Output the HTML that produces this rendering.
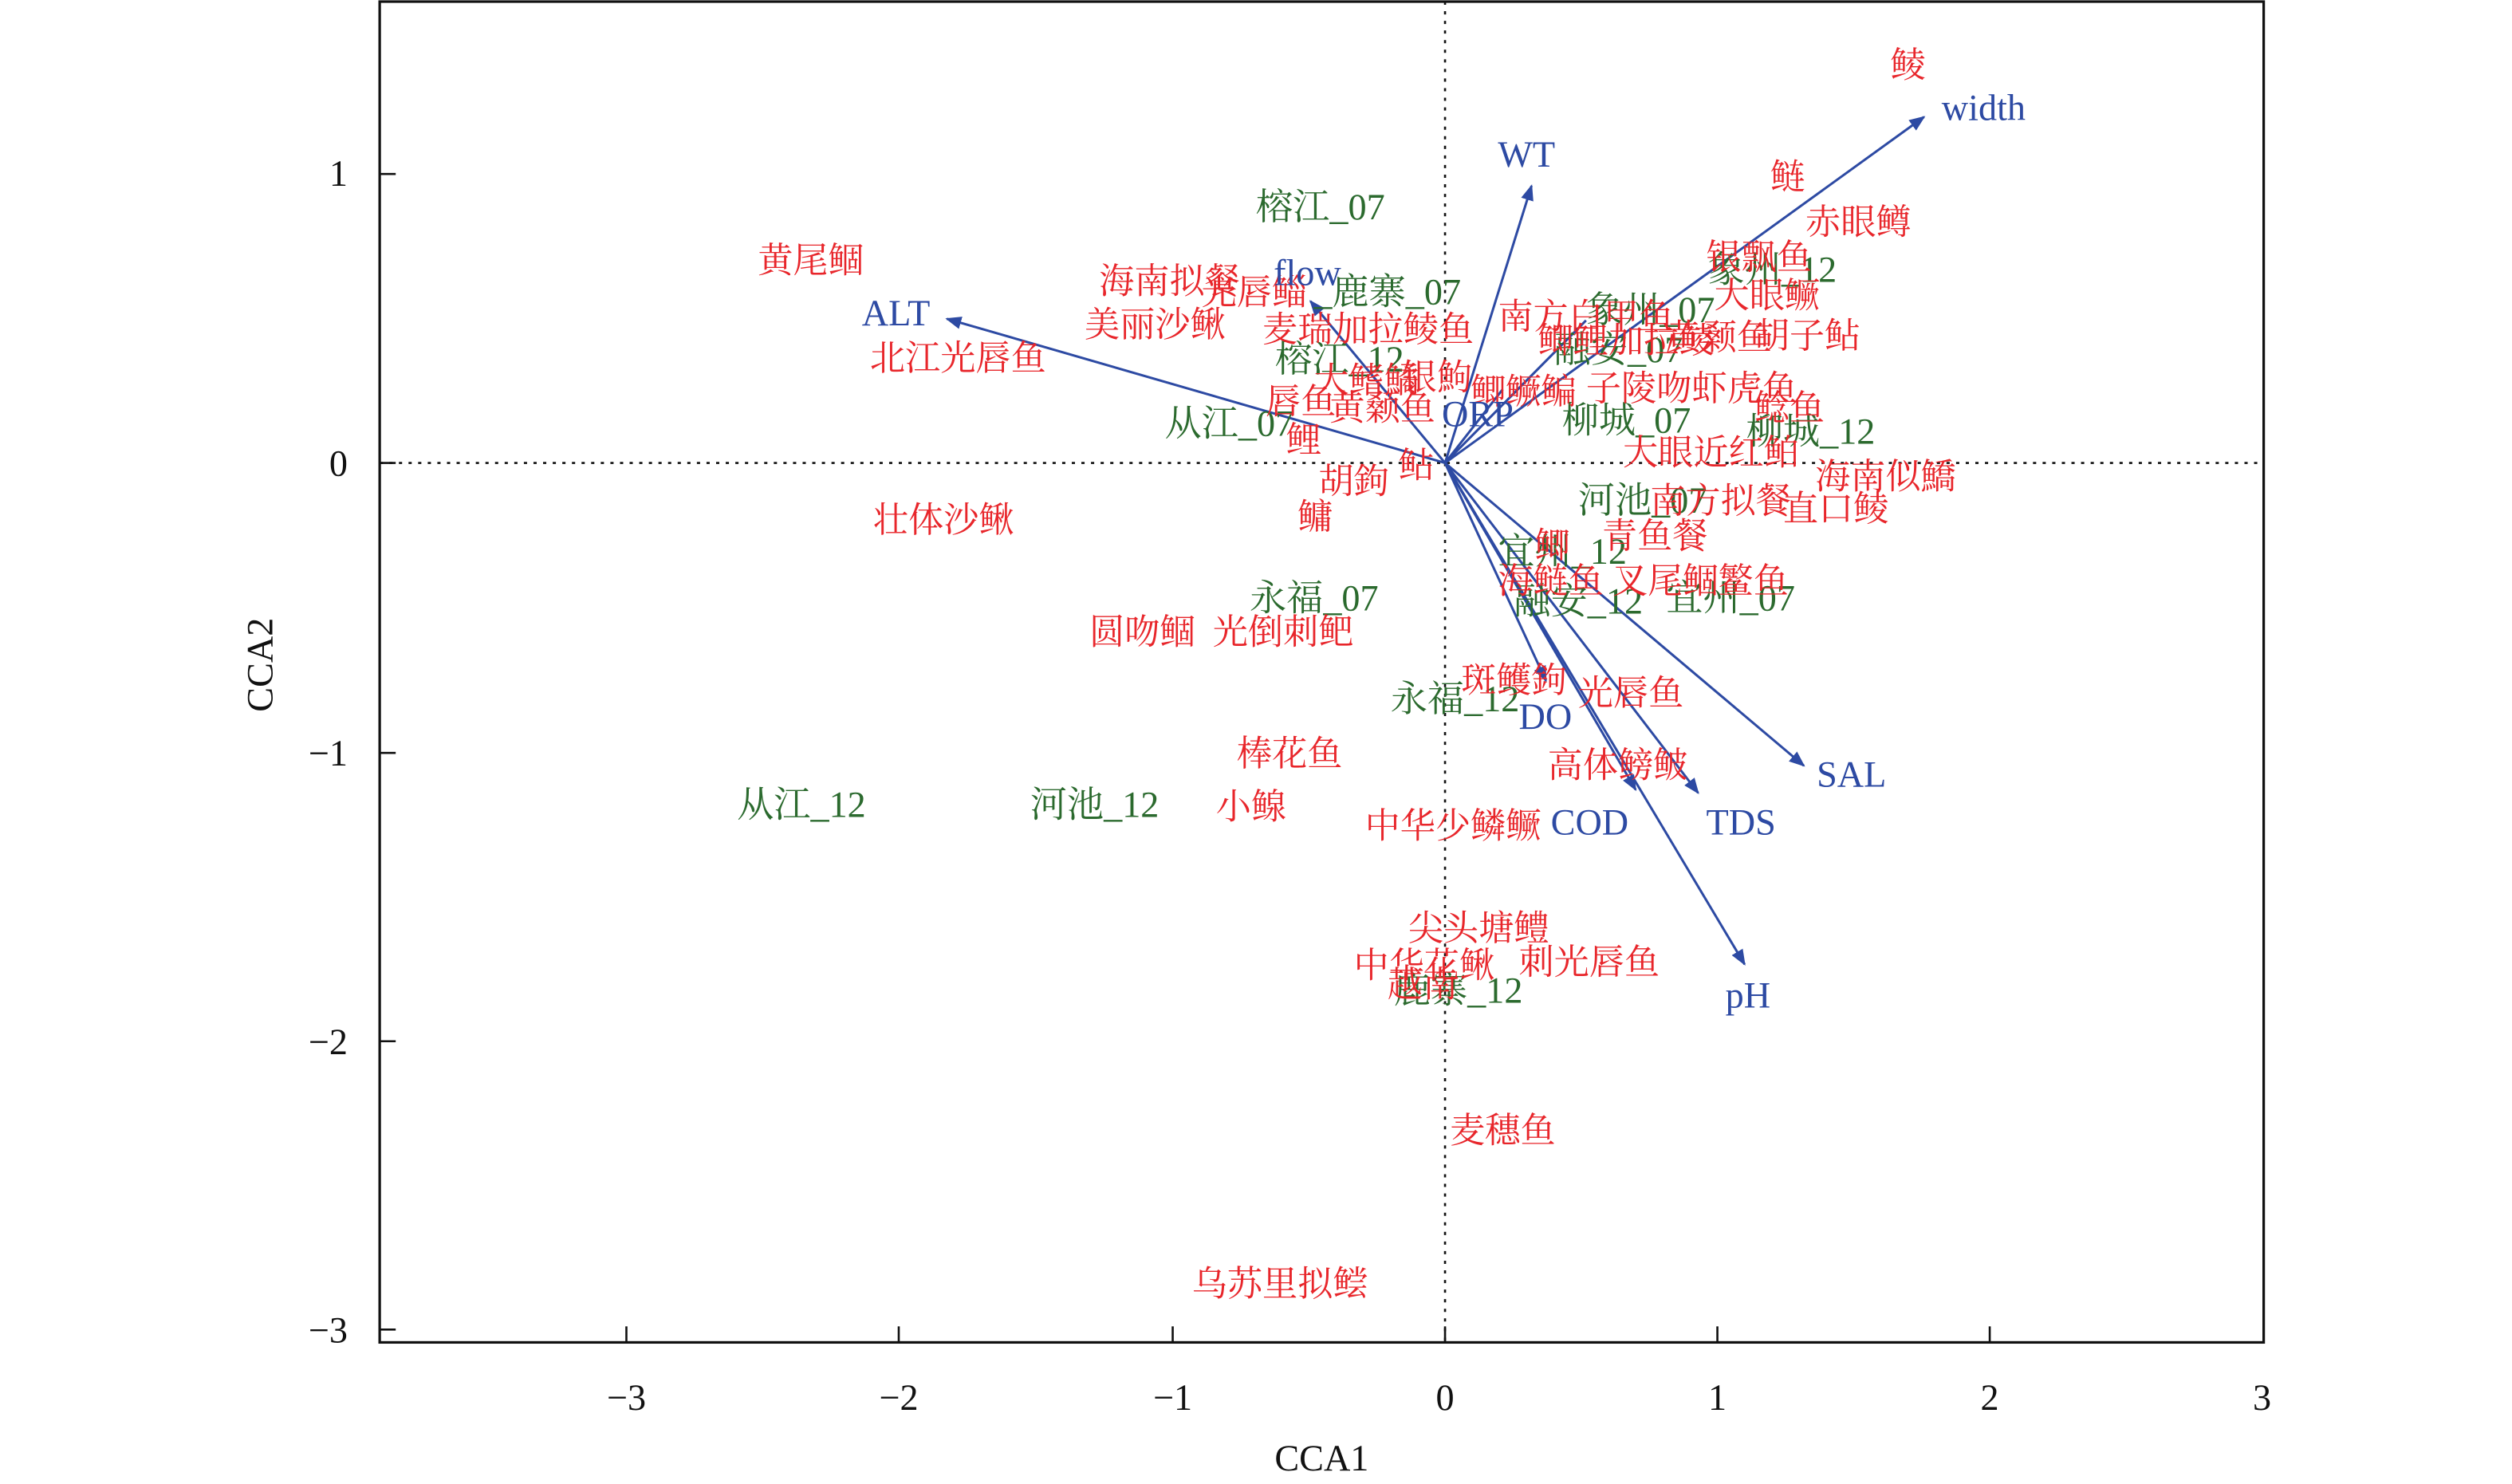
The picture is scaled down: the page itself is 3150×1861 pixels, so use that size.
<!DOCTYPE html>
<html><head><meta charset="utf-8"><style>
html,body{margin:0;padding:0;background:#fff}
svg{display:block}
text{font-family:"Liberation Serif","Noto Serif CJK SC",serif}
.r{fill:#e8262b;font-size:22px}
.g{fill:#2b6a2e;font-size:23px}
.b{fill:#2d4aa3;font-size:23px}
.t{fill:#111;font-size:23px}
</style></head><body>
<svg width="3150" height="1861" viewBox="0 0 1568 926.4" preserveAspectRatio="none" xmlns="http://www.w3.org/2000/svg">
<defs><marker id="a" markerWidth="10" markerHeight="8" refX="9" refY="4" orient="auto" markerUnits="userSpaceOnUse"><path d="M0,0 L10,4 L0,8 z" fill="#2d4aa3"/></marker></defs>
<rect x="237" y="1" width="1176" height="837" fill="none" stroke="#111" stroke-width="1.6"/>
<line x1="902" y1="1" x2="902" y2="838" stroke="#111" stroke-width="1.3" stroke-dasharray="2,4"/>
<line x1="237" y1="289" x2="1413" y2="289" stroke="#111" stroke-width="1.3" stroke-dasharray="2,4"/>
<g stroke="#111" stroke-width="1.3">
<line x1="391" y1="838" x2="391" y2="828"/><line x1="561" y1="838" x2="561" y2="828"/><line x1="732" y1="838" x2="732" y2="828"/><line x1="902" y1="838" x2="902" y2="828"/><line x1="1072" y1="838" x2="1072" y2="828"/><line x1="1242" y1="838" x2="1242" y2="828"/>
<line x1="237" y1="108.6" x2="247" y2="108.6"/><line x1="237" y1="289" x2="247" y2="289"/><line x1="237" y1="470" x2="247" y2="470"/><line x1="237" y1="650" x2="247" y2="650"/><line x1="237" y1="830" x2="247" y2="830"/>
</g>
<g class="t" text-anchor="middle">
<text x="391" y="880" class="t">−3</text><text x="561" y="880" class="t">−2</text><text x="732" y="880" class="t">−1</text><text x="902" y="880" class="t">0</text><text x="1072" y="880" class="t">1</text><text x="1242" y="880" class="t">2</text><text x="1412" y="880" class="t">3</text>
<text x="825" y="918" class="t">CCA1</text>
</g>
<g text-anchor="end">
<text x="217" y="116" class="t">1</text><text x="217" y="297" class="t">0</text><text x="217" y="478" class="t">−1</text><text x="217" y="658" class="t">−2</text><text x="217" y="838" class="t">−3</text>
</g>
<text class="t" transform="translate(170,415) rotate(-90)" text-anchor="middle">CCA2</text>
<g stroke="#2d4aa3" stroke-width="1.5" marker-end="url(#a)" fill="none">
<line x1="902" y1="289" x2="591" y2="199"/>
<line x1="902" y1="289" x2="956" y2="116"/>
<line x1="902" y1="289" x2="1201" y2="73"/>
<line x1="902" y1="289" x2="818" y2="188"/>
<line x1="902" y1="289" x2="1126" y2="478"/>
<line x1="902" y1="289" x2="1060" y2="495"/>
<line x1="902" y1="289" x2="1021" y2="493"/>
<line x1="902" y1="289" x2="1089" y2="602"/>
<line x1="902" y1="289" x2="965" y2="425"/>
</g>
<line x1="902" y1="289" x2="938" y2="243" stroke="#2d4aa3" stroke-width="1.5"/>
<line x1="902" y1="289" x2="990" y2="200" stroke="#2d4aa3" stroke-width="1.5"/>
<g class="g">
<text x="784" y="137">榕江_07</text>
<text x="1066" y="176">象州_12</text>
<text x="820" y="190">_鹿寨_07</text>
<text x="990" y="201">象州_07</text>
<text x="970" y="226">融安_07</text>
<text x="796" y="232">榕江_12</text>
<text x="727" y="272">从江_07</text>
<text x="975" y="270">柳城_07</text>
<text x="1090" y="277">柳城_12</text>
<text x="985" y="320">河池_07</text>
<text x="935" y="352">宜州_12</text>
<text x="780" y="381">永福_07</text>
<text x="945" y="383">融安_12</text>
<text x="1040" y="381">宜州_07</text>
<text x="868" y="444">永福_12</text>
<text x="460" y="510">从江_12</text>
<text x="643" y="510">河池_12</text>
<text x="870" y="626">鹿寨_12</text>
</g>
<g class="r">
<text x="1180" y="48">鲮</text>
<text x="1105" y="118">鲢</text>
<text x="1127" y="146">赤眼鳟</text>
<text x="1065" y="168">银飘鱼</text>
<text x="1070" y="192">大眼鳜</text>
<text x="473" y="170">黄尾鲴</text>
<text x="686" y="183">海南拟餐</text>
<text x="750" y="190">光唇鲻</text>
<text x="677" y="210">美丽沙鳅</text>
<text x="543" y="231">北江光唇鱼</text>
<text x="788" y="213">麦瑞加拉鲮鱼</text>
<text x="935" y="205">南方白甲鱼</text>
<text x="960" y="220">鲫鲤加拉鲮</text>
<text x="1040" y="218">黄颡鱼</text>
<text x="1095" y="217">胡子鲇</text>
<text x="820" y="245">大鳍鱊</text>
<text x="875" y="243">银鮈</text>
<text x="790" y="258">唇鱼</text>
<text x="830" y="262">黄颡鱼</text>
<text x="918" y="252">鲫鳜鳊</text>
<text x="990" y="250">子陵吻虾虎鱼</text>
<text x="1095" y="262">鲶鱼</text>
<text x="1013" y="290">大眼近红鲌</text>
<text x="803" y="282">鲤</text>
<text x="873" y="298">鲇</text>
<text x="823" y="308">胡鉤</text>
<text x="1133" y="305">海南似鱎</text>
<text x="545" y="332">壮体沙鳅</text>
<text x="810" y="330">鳙</text>
<text x="1030" y="320">南方拟餐</text>
<text x="1113" y="325">直口鲮</text>
<text x="1000" y="342">青鱼餐</text>
<text x="958" y="348">鲫</text>
<text x="935" y="370">海鲢鱼 叉尾鲴鳘鱼</text>
<text x="680" y="402">圆吻鲴</text>
<text x="757" y="402">光倒刺鲃</text>
<text x="912" y="432">斑鳠鉤</text>
<text x="985" y="440">光唇鱼</text>
<text x="772" y="478">棒花鱼</text>
<text x="966" y="485">高体鳑鲏</text>
<text x="759" y="511">小鳈</text>
<text x="852" y="523">中华少鳞鳜</text>
<text x="879" y="587">尖头塘鳢</text>
<text x="845" y="610">中华花鳅</text>
<text x="948" y="608">刺光唇鱼</text>
<text x="866" y="622">越南</text>
<text x="905" y="713">麦穗鱼</text>
<text x="744" y="809">乌苏里拟鲿</text>
</g>
<g class="b">
<text x="1212" y="75">width</text>
<text x="935" y="104">WT</text>
<text x="795" y="178">flow</text>
<text x="538" y="203">ALT</text>
<text x="900" y="266">ORP</text>
<text x="948" y="455">DO</text>
<text x="1134" y="491">SAL</text>
<text x="968" y="521">COD</text>
<text x="1065" y="521">TDS</text>
<text x="1077" y="629">pH</text>
</g>
</svg>
</body></html>
